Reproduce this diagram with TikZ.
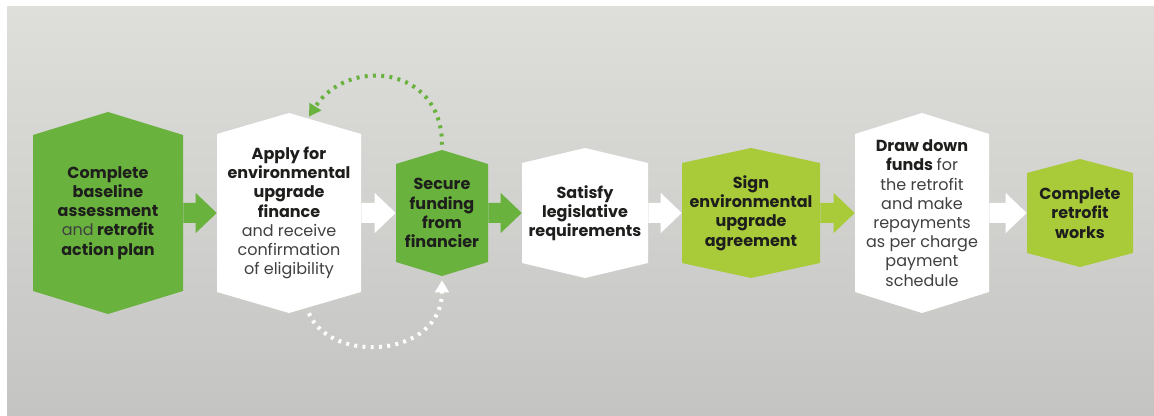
\documentclass[tikz,border=0pt]{standalone}
\usepackage{fontspec}
\setmainfont{Poppins}
\usetikzlibrary{calc,arrows.meta}

\definecolor{leafgreen}{HTML}{69B23D}
\definecolor{shootgreen}{HTML}{A9CB3A}
\definecolor{bgtop}{HTML}{DEDEDB}
\definecolor{bgbottom}{HTML}{C4C4C2}
\definecolor{ink}{HTML}{1E1E1C}
\definecolor{softink}{HTML}{404040}

\newcommand{\regtext}[1]{{\mdseries\color{softink}#1}}

% name, x, y, half width, half height, point, fill, text
\newcommand{\hexstep}[8]{%
  \fill[#7] (#2-#4,#3-#5) -- (#2,#3-#5-#6) -- (#2+#4,#3-#5) -- (#2+#4,#3+#5)
    -- (#2,#3+#5+#6) -- (#2-#4,#3+#5) -- cycle;
  \node[steptext,minimum width={1.5pt*#4},minimum height={1.5pt*#5}] (#1) at (#2,#3) {#8};}

% from, to, fill
\newcommand{\stepgap}[3]{%
  \fill[#3] ($(#1.east)+(0,-10)$) -- ($(#2.west)+(-21,-10)$) -- ($(#2.west)+(-21,-20)$)
    -- (#2.west) -- ($(#2.west)+(-21,20)$) -- ($(#2.west)+(-21,10)$) -- ($(#1.east)+(0,10)$) -- cycle;}

\begin{document}
\begin{tikzpicture}[x=0.75pt,y=-0.75pt,
  steptext/.style={align=center,inner sep=0pt,text=ink,font=\bfseries\fontsize{12}{14.4}\selectfont},
  greenloop/.style={leafgreen,line width=3pt,dash pattern=on 2.2pt off 4pt,-{Triangle[length=9pt,width=10pt]}},
  whiteloop/.style={white,line width=3pt,dash pattern=on 2.2pt off 4pt,-{Triangle[length=9pt,width=10pt]}}]
\useasboundingbox (0,0) rectangle (1154,416);
\fill[white] (0,0) rectangle (1154,416);
\shade[top color=bgtop,bottom color=bgbottom] (7,7) rectangle (1154,416);

\hexstep{baseline}{108}{213}{75}{78}{23}{leafgreen}{Complete\\baseline\\assessment\\\regtext{and} retrofit\\action plan}
\hexstep{apply}{289}{213}{72}{79}{21}{white}{Apply for\\environmental\\upgrade\\finance\\\regtext{and receive}\\\regtext{confirmation}\\\regtext{of eligibility}}
\hexstep{secure}{442}{213}{46}{49}{14}{leafgreen}{Secure\\funding\\from\\financier}
\hexstep{satisfy}{585}{213}{63}{50}{15}{white}{Satisfy\\legislative\\requirements}
\hexstep{sign}{751}{213}{69}{50}{15}{shootgreen}{Sign\\environmental\\upgrade\\agreement}
\hexstep{drawdown}{922}{213}{67}{79}{21}{white}{Draw down\\funds \regtext{for}\\\regtext{the retrofit}\\\regtext{and make}\\\regtext{repayments}\\\regtext{as per charge}\\\regtext{payment}\\\regtext{schedule}}
\hexstep{works}{1080}{213}{53}{40}{14}{shootgreen}{Complete\\retrofit\\works}

\stepgap{baseline}{apply}{leafgreen}
\stepgap{apply}{secure}{white}
\stepgap{secure}{satisfy}{leafgreen}
\stepgap{satisfy}{sign}{white}
\stepgap{sign}{drawdown}{shootgreen}
\stepgap{drawdown}{works}{white}

\draw[greenloop] ($(secure.north)+(0,-19)$) .. controls +(0,-80) and +(38,-60) .. ($(apply.north)+(20,-17)$);
\draw[whiteloop] ($(apply.south)+(20,21)$) .. controls +(21,51) and +(0,78) .. ($(secure.south)+(0,18)$);
\end{tikzpicture}
\end{document}
